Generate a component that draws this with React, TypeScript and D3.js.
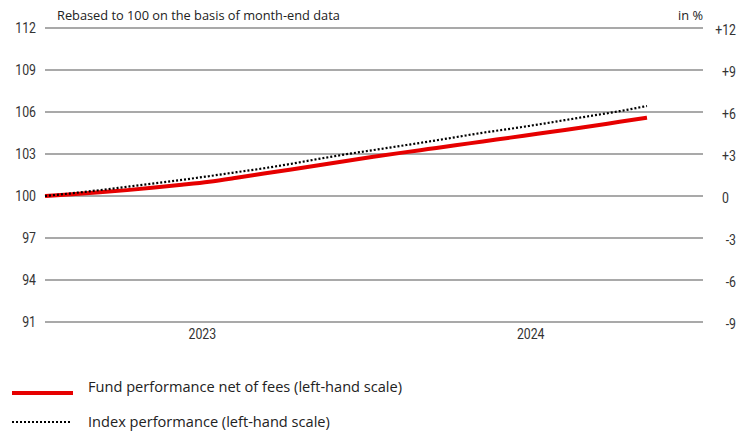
import React from "react";
import * as d3 from "d3";

const months: number[] = d3.range(0, 23);
const fund: number[] = [100, 100.12, 100.26, 100.42, 100.6, 100.8, 101.02, 101.3, 101.6, 101.9, 102.2, 102.5, 102.8, 103.08, 103.35, 103.62, 103.9, 104.17, 104.45, 104.72, 105.0, 105.3, 105.59];
const index: number[] = [100, 100.2, 100.42, 100.66, 100.9, 101.15, 101.42, 101.7, 101.98, 102.3, 102.65, 102.98, 103.28, 103.58, 103.88, 104.2, 104.52, 104.8, 105.1, 105.42, 105.74, 106.06, 106.43];
const leftTicks: number[] = [91, 94, 97, 100, 103, 106, 109, 112];
const rightTicks: string[] = ["-9", "-6", "-3", "0", "+3", "+6", "+9", "+12"];
const years: { label: string; pos: number }[] = [
  { label: "2023", pos: 5.75 },
  { label: "2024", pos: 17.75 },
];

const W = 748;
const H = 432;
const condensed = "Roboto, 'Open Sans', sans-serif";
const regular = "'Open Sans', 'Noto Sans', sans-serif";

function NarrowText(props: { x: number; y: number; anchor: string; children: React.ReactNode }) {
  return (
    <text
      transform={`translate(${props.x},${props.y}) scale(0.82,1)`}
      dy="0.36em"
      textAnchor={props.anchor}
      fontFamily={condensed}
      fontSize={15}
      fill="#333"
    >
      {props.children}
    </text>
  );
}

export default function App() {
  const x = d3.scaleLinear().domain([0, 22]).range([45, 647]);
  const y = d3.scaleLinear().domain([91, 112]).range([322, 28]);
  const line = d3
    .line<number>()
    .x((_, i) => x(months[i]))
    .y((d) => y(d))
    .curve(d3.curveMonotoneX);

  return (
    <svg
      width={W}
      height={H}
      style={{ position: "absolute", left: 0, top: 0, background: "#fff" }}
    >
      {leftTicks.map((t, i) => (
        <g key={t}>
          <line x1={45} x2={703} y1={y(t)} y2={y(t)} stroke="#555" strokeWidth={1.2} />
          <NarrowText x={36} y={y(t)} anchor="end">
            {t}
          </NarrowText>
          <NarrowText x={rightTicks[i] === "0" ? 729 : 736} y={y(t) + 2} anchor="end">
            {rightTicks[i]}
          </NarrowText>
        </g>
      ))}
      <text x={57} y={20} fontFamily={regular} fontSize={12.8} fill="#222">
        Rebased to 100 on the basis of month-end data
      </text>
      <text x={703} y={20} textAnchor="end" fontFamily={regular} fontSize={12.8} fill="#222">
        in %
      </text>
      {years.map((yr) => (
        <NarrowText key={yr.label} x={x(yr.pos) + 0} y={334} anchor="middle">
          {yr.label}
        </NarrowText>
      ))}
      <path d={line(fund) || ""} fill="none" stroke="#e60000" strokeWidth={4} />
      <path
        d={line(index) || ""}
        fill="none"
        stroke="#000"
        strokeWidth={2.2}
        strokeDasharray="2 2"
      />
      <line x1={12} x2={73} y1={393} y2={393} stroke="#e60000" strokeWidth={4} />
      <text x={88} y={392} fontFamily={regular} fontSize={14.6} fill="#222">
        Fund performance net of fees (left-hand scale)
      </text>
      <line x1={12} x2={71} y1={422} y2={422} stroke="#000" strokeWidth={2.2} strokeDasharray="2 2" />
      <text x={88} y={427} fontFamily={regular} fontSize={14.6} fill="#222">
        Index performance (left-hand scale)
      </text>
    </svg>
  );
}
